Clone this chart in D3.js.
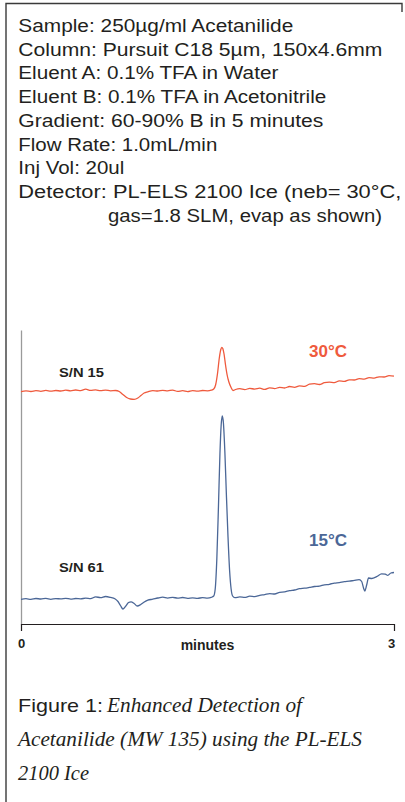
<!DOCTYPE html>
<html>
<head>
<meta charset="utf-8">
<script src="https://cdn.jsdelivr.net/npm/d3@7"></script>
<style>
  body { margin: 0; background: #fff; }
  svg { display: block; }
</style>
</head>
<body>
<div id="chart"></div>
<script>
// conditions block, one entry per printed line
const header_lines = [
  "Sample: 250µg/ml Acetanilide",
  "Column: Pursuit C18 5µm, 150x4.6mm",
  "Eluent A: 0.1% TFA in Water",
  "Eluent B: 0.1% TFA in Acetonitrile",
  "Gradient: 60-90% B in 5 minutes",
  "Flow Rate: 1.0mL/min",
  "Inj Vol: 20ul",
  "Detector: PL-ELS 2100 Ice (neb= 30°C,",
  "gas=1.8 SLM, evap as shown)"
]

const caption_lead = "Figure 1:"
const caption_lines = [
  "Enhanced Detection of",
  "Acetanilide (MW 135) using the PL-ELS",
  "2100 Ice"
]

const x_ticks = [0, 3]
const x_label = "minutes"
const trace_names = ["30°C", "15°C"]
const sn_labels = ["S/N 15", "S/N 61"]
// traces are stacked: response offset added to each one
const trace_offsets = [233, 25]

// [minutes, response], evap 30°C
const trace_30 = [
  [0.00, -0.7], [0.04, 0.2], [0.08, -0.5], [0.12, 0.4], [0.16, -0.3], [0.20, 0.6],
  [0.24, -0.2], [0.28, 0.5], [0.32, 0.0], [0.36, 0.8], [0.40, 0.2], [0.44, 1.0],
  [0.48, 0.4], [0.52, 1.8], [0.56, 0.6], [0.60, 1.1], [0.64, 0.3], [0.68, 0.9],
  [0.72, 0.2], [0.76, 0.5], [0.79, -0.5], [0.82, -3.5], [0.85, -6.5], [0.88, -8.0],
  [0.91, -8.3], [0.94, -7.0], [0.965, -4.5], [0.99, -2.0], [1.02, -0.8], [1.06, 0.4],
  [1.10, 0.0], [1.14, 0.7], [1.18, 0.2], [1.22, 0.9], [1.26, -0.4], [1.30, 0.3],
  [1.34, -0.6], [1.38, 0.4], [1.42, -0.2], [1.46, 0.5], [1.50, 0.2], [1.53, 0.8],
  [1.55, 2.0], [1.565, 6.0], [1.58, 17.0], [1.595, 33.0], [1.607, 41.5], [1.615, 43.7],
  [1.623, 42.5], [1.633, 37.0], [1.645, 26.0], [1.658, 16.0], [1.672, 9.0], [1.688, 4.0],
  [1.705, 0.5], [1.725, 1.5], [1.76, 2.3], [1.80, 1.4], [1.84, 2.6], [1.88, 1.9],
  [1.92, 2.8], [1.96, 1.6], [2.00, 3.2], [2.04, 2.4], [2.08, 3.6], [2.12, 3.0],
  [2.16, 4.5], [2.20, 3.7], [2.24, 5.2], [2.28, 4.6], [2.32, 6.8], [2.36, 7.4],
  [2.40, 6.5], [2.44, 8.3], [2.48, 8.9], [2.52, 8.4], [2.56, 10.1], [2.60, 9.6],
  [2.64, 11.2], [2.68, 11.0], [2.72, 12.4], [2.76, 11.9], [2.80, 13.3], [2.84, 12.9],
  [2.88, 14.2], [2.92, 14.0], [2.96, 15.3], [3.00, 14.8]
]

// evap 15°C
const trace_15 = [
  [0.00, -0.3], [0.04, 0.3], [0.08, -0.4], [0.12, 0.5], [0.16, 0.0], [0.20, 0.6],
  [0.24, -0.3], [0.28, 0.4], [0.32, 0.1], [0.36, 0.7], [0.40, -0.1], [0.44, 0.5],
  [0.48, 0.2], [0.52, 0.8], [0.56, 0.4], [0.60, 2.2], [0.64, 1.3], [0.68, 2.5],
  [0.72, 1.6], [0.755, 0.2], [0.78, -2.5], [0.80, -6.5], [0.82, -10.0], [0.84, -7.5],
  [0.865, -3.5], [0.885, -2.8], [0.91, -4.5], [0.935, -7.0], [0.96, -5.8], [0.985, -3.5],
  [1.02, -1.2], [1.06, -0.2], [1.10, 1.0], [1.14, 1.8], [1.18, 0.9], [1.22, 1.7],
  [1.26, 0.8], [1.30, 1.5], [1.34, 0.7], [1.38, 1.2], [1.42, 0.6], [1.46, 1.4],
  [1.50, 0.9], [1.53, 1.6], [1.55, 3.0], [1.562, 10.0], [1.575, 40.0], [1.588, 92.0],
  [1.600, 145.0], [1.610, 174.0], [1.619, 183.0], [1.628, 176.0], [1.640, 146.0], [1.652, 104.0],
  [1.665, 62.0], [1.678, 28.0], [1.690, 10.0], [1.702, 3.0], [1.72, 1.3], [1.76, 2.1],
  [1.80, 1.6], [1.84, 2.8], [1.88, 2.4], [1.92, 3.6], [1.96, 4.4], [2.00, 5.4],
  [2.04, 5.0], [2.08, 6.7], [2.12, 7.1], [2.16, 8.4], [2.20, 9.0], [2.24, 10.3],
  [2.28, 10.8], [2.32, 11.6], [2.36, 12.5], [2.40, 12.9], [2.44, 14.2], [2.48, 14.7],
  [2.52, 15.9], [2.56, 16.4], [2.60, 17.3], [2.64, 17.8], [2.68, 18.6], [2.72, 19.3],
  [2.74, 17.5], [2.755, 11.0], [2.765, 8.0], [2.78, 14.0], [2.795, 21.0], [2.82, 20.5],
  [2.86, 22.3], [2.90, 25.2], [2.93, 24.8], [2.95, 23.6], [2.975, 26.0], [3.00, 26.5]
]

const width = 405,
      height = 802

const plot = { left: 21, right: 394, top: 330, bottom: 624 }
const colors = ["#ef5a3d", "#4b6797"]
const sans = "'Liberation Sans', Arial, Helvetica, sans-serif"
const serif = "'Liberation Serif', 'Times New Roman', serif"

// measured line widths of the conditions block
const header_widths = [275, 364, 260, 308, 305, 199, 106, 383, 274]
const caption_widths = [195, 344, 71]

const svg = d3.select("#chart")
    .append("svg")
    .attr("width", width)
    .attr("height", height)

// frame
svg.append("path")
    .attr("d", `M 6 ${height} V 3.5 H 402 V 12`)
    .attr("fill", "none")
    .attr("stroke", "#3a3a3a")
    .attr("stroke-width", 1.4)

const header = svg.append("g")
    .attr("font-family", sans)
    .attr("font-size", 17.5)
    .attr("fill", "#231f20")

header.selectAll("text")
    .data(header_lines)
    .enter()
    .append("text")
    .attr("x", (d, i) => i === 8 ? 108 : 18.3)
    .attr("y", (d, i) => 31.8 + i * 23.75)
    .attr("textLength", (d, i) => header_widths[i])
    .attr("lengthAdjust", "spacingAndGlyphs")
    .text(d => d)

const x = d3.scaleLinear()
    .domain([0, 3])
    .range([plot.left, plot.right])

const y = d3.scaleLinear()
    .domain([0, 294])
    .range([plot.bottom, plot.top])

// y axis: plain grey rule, no ticks
svg.append("g")
    .attr("transform", `translate(${plot.left}, 0)`)
    .call(d3.axisLeft(y).tickValues([]).tickSizeOuter(0))
    .call(g => g.select(".domain").attr("stroke", "#9a9a9a").attr("stroke-width", 1.3))

const x_axis = svg.append("g")
    .attr("transform", `translate(0, ${plot.bottom})`)
    .call(d3.axisBottom(x)
        .tickValues(x_ticks)
        .tickFormat(d3.format("d"))
        .tickSize(7)
        .tickSizeOuter(7)
        .tickPadding(8))

x_axis.select(".domain").attr("stroke", "#231f20").attr("stroke-width", 1.2)
x_axis.selectAll(".tick line").attr("stroke", "#231f20")
x_axis.selectAll(".tick text")
    .attr("font-family", sans)
    .attr("font-size", 13)
    .attr("font-weight", "bold")
    .attr("fill", "#231f20")
    .attr("dx", (d) => d === 3 ? -3 : 0)

svg.append("text")
    .attr("x", (plot.left + plot.right) / 2)
    .attr("y", 650)
    .attr("text-anchor", "middle")
    .attr("font-family", sans)
    .attr("font-size", 14)
    .attr("font-weight", "bold")
    .attr("fill", "#231f20")
    .text(x_label)

const traces = [trace_30, trace_15]

traces.forEach((trace, i) => {
    const line = d3.line()
        .x(d => x(d[0]))
        .y(d => y(d[1] + trace_offsets[i]))
        .curve(d3.curveMonotoneX)

    svg.append("path")
        .datum(trace)
        .attr("fill", "none")
        .attr("stroke", colors[i])
        .attr("stroke-width", 1.3)
        .attr("stroke-linejoin", "round")
        .attr("d", line)
})

// temperature + signal/noise annotations
const name_y = [357, 546]
const sn_y = [377, 572]

svg.selectAll(".trace-name")
    .data(trace_names)
    .enter()
    .append("text")
    .attr("class", "trace-name")
    .attr("x", 309)
    .attr("y", (d, i) => name_y[i])
    .attr("font-family", sans)
    .attr("font-size", 16)
    .attr("font-weight", "bold")
    .attr("fill", (d, i) => colors[i])
    .attr("textLength", 38)
    .attr("lengthAdjust", "spacingAndGlyphs")
    .text(d => d)

svg.selectAll(".sn")
    .data(sn_labels)
    .enter()
    .append("text")
    .attr("class", "sn")
    .attr("x", 59)
    .attr("y", (d, i) => sn_y[i])
    .attr("font-family", sans)
    .attr("font-size", 13)
    .attr("font-weight", "bold")
    .attr("fill", "#231f20")
    .attr("textLength", 45)
    .attr("lengthAdjust", "spacingAndGlyphs")
    .text(d => d)

// caption
svg.append("text")
    .attr("x", 18)
    .attr("y", 712)
    .attr("font-family", sans)
    .attr("font-size", 19)
    .attr("fill", "#231f20")
    .attr("textLength", 85)
    .attr("lengthAdjust", "spacingAndGlyphs")
    .text(caption_lead)

svg.selectAll(".caption")
    .data(caption_lines)
    .enter()
    .append("text")
    .attr("class", "caption")
    .attr("x", (d, i) => i === 0 ? 107 : 18)
    .attr("y", (d, i) => 712 + i * 34)
    .attr("font-family", serif)
    .attr("font-style", "italic")
    .attr("font-size", 21)
    .attr("fill", "#231f20")
    .attr("textLength", (d, i) => caption_widths[i])
    .attr("lengthAdjust", "spacingAndGlyphs")
    .text(d => d)
</script>
</body>
</html>
